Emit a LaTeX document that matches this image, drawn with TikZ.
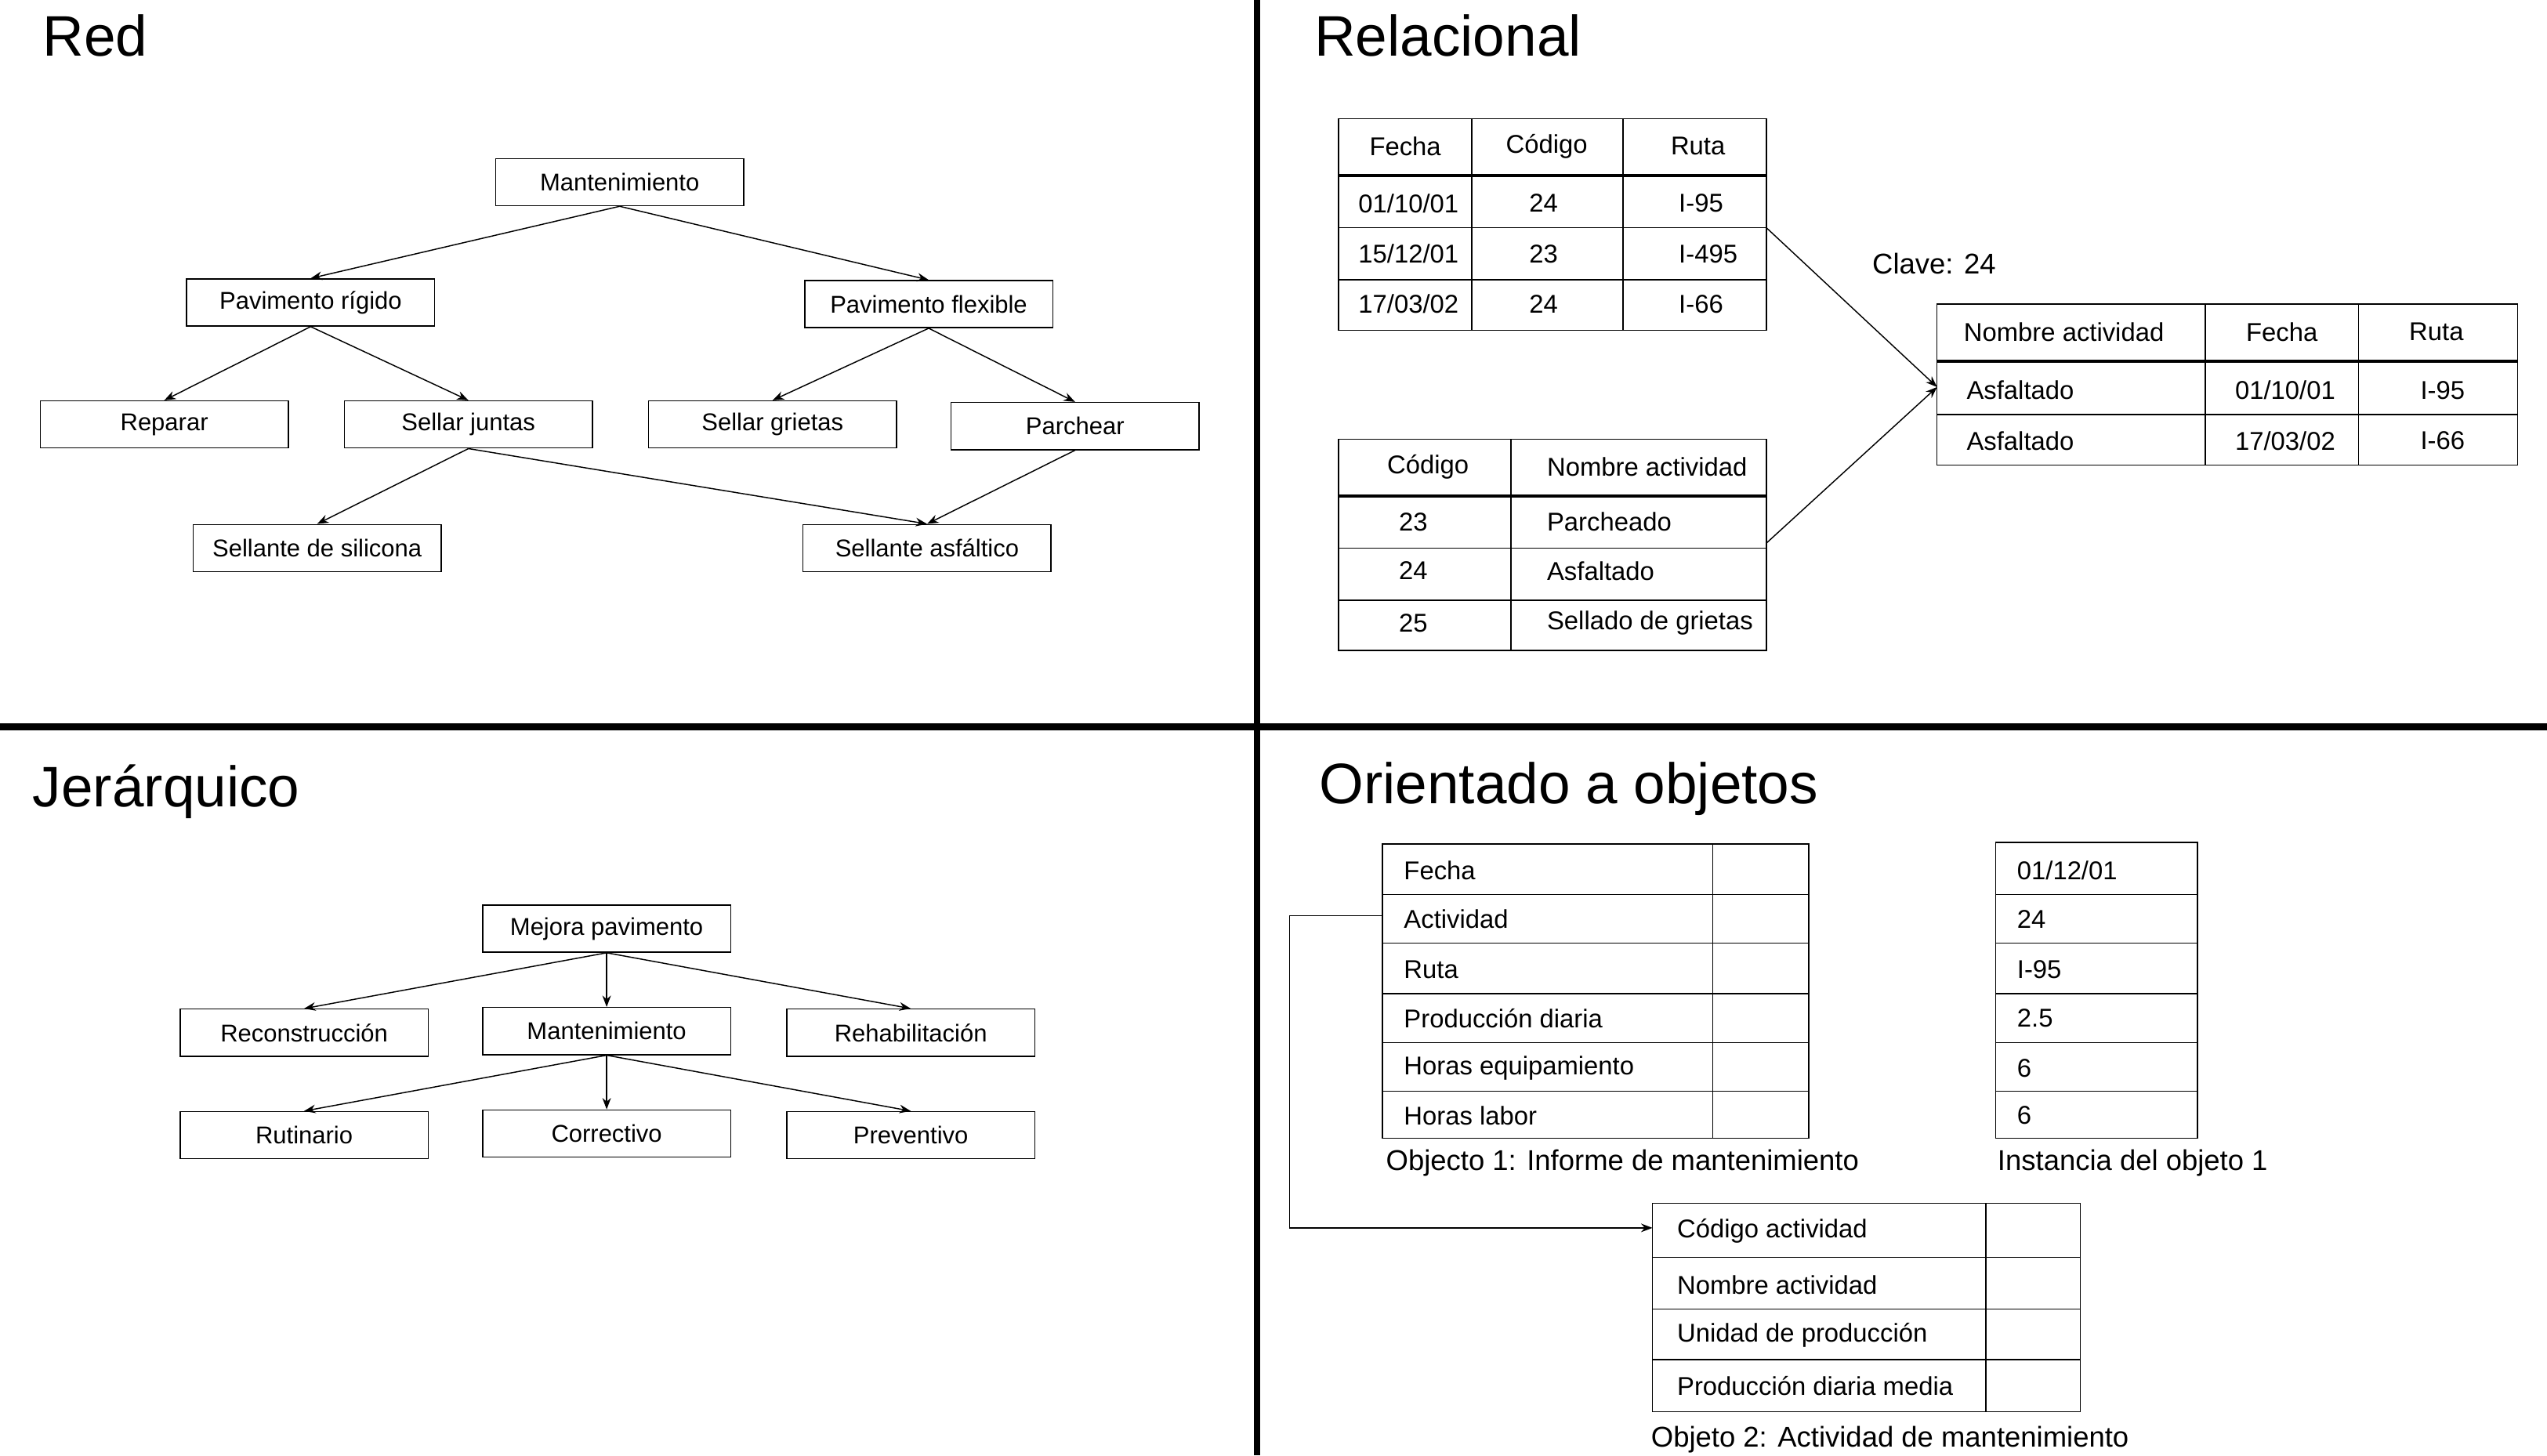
\documentclass[tikz,border=0pt]{standalone}
\usepackage{fontspec}
\setmainfont{Liberation Sans}
\usetikzlibrary{positioning, arrows.meta}
\tikzset{
  box/.style={draw, rectangle, minimum width=3.05cm, minimum height=0.58cm, inner sep=0pt, font=\fontsize{8.5}{10}\selectfont},
  arr/.style={-{Stealth[length=4pt,width=3pt]}, thin},
  title/.style={anchor=west, font=\fontsize{20}{24}\selectfont},
  cell/.style={font=\fontsize{9}{11}\selectfont},
  captxt/.style={anchor=west, font=\fontsize{10}{12}\selectfont}
}
\begin{document}
\begin{tikzpicture}[x=0.02cm, y=-0.02cm]
  \useasboundingbox (0,0) rectangle (1566,895);
  % dividers
  \draw[line width=2.3pt] (773,0) -- (773,895);
  \draw[line width=2.3pt] (0,447) -- (1566,447);

  % titles
  \node[title] (tRed) at (20,22) {Red};
  \node[title] (tRel) at (802,22) {Relacional};
  \node[title] (tJer) at (14,487) {Jerárquico};
  \node[title] (tOO) at (805,485) {Orientado a objetos};

  % Red
  \node[box] (M) at (381,112) {Mantenimiento};
  \node[box] (PR) at (191,186) {Pavimento rígido};
  \node[box] (PF) at (571,187) {Pavimento flexible};
  \node[box] (Rep) at (101,261) {Reparar};
  \node[box] (SJ) at (288,261) {Sellar juntas};
  \node[box] (SG) at (475,261) {Sellar grietas};
  \node[box] (Par) at (661,262) {Parchear};
  \node[box] (SS) at (195,337) {Sellante de silicona};
  \node[box] (SA) at (570,337) {Sellante asfáltico};
  \draw[arr] (M.south) -- (PR.north);
  \draw[arr] (M.south) -- (PF.north);
  \draw[arr] (PR.south) -- (Rep.north);
  \draw[arr] (PR.south) -- (SJ.north);
  \draw[arr] (PF.south) -- (SG.north);
  \draw[arr] (PF.south) -- (Par.north);
  \draw[arr] (SJ.south) -- (SS.north);
  \draw[arr] (SJ.south) -- (SA.north);
  \draw[arr] (Par.south) -- (SA.north);

  % Jerarquico
  \node[box] (MP) at (373,571) {Mejora pavimento};
  \node[box] (Rec) at (187,635) {Reconstrucción};
  \node[box] (Man) at (373,634) {Mantenimiento};
  \node[box] (Reh) at (560,635) {Rehabilitación};
  \node[box] (Rut) at (187,698) {Rutinario};
  \node[box] (Cor) at (373,697) {Correctivo};
  \node[box] (Pre) at (560,698) {Preventivo};
  \foreach \c in {Rec,Man,Reh} \draw[arr] (MP.south) -- (\c.north);
  \foreach \c in {Rut,Cor,Pre} \draw[arr] (Man.south) -- (\c.north);

  % Relacional: tabla 1
  \draw (823,73) rectangle (1086,203);
  \draw[line width=1pt] (823,108) -- (1086,108);
  \foreach \y in {140,172} \draw (823,\y) -- (1086,\y);
  \foreach \x in {905,998} \draw (\x,73) -- (\x,203);
  \node[cell] at (864,90) {Fecha};
  \node[cell] at (951,90) {Código};
  \node[cell] at (1044,90) {Ruta};
  \foreach \y/\a/\b/\c in {125/01\slash 10\slash 01/24/I-95, 156/15\slash 12\slash 01/23/I-495, 187/17\slash 03\slash 02/24/I-66}{
    \node[cell] at (866,\y) {\a};
    \node[cell] at (949,\y) {\b};
    \node[cell, anchor=west] at (1026,\y) {\c};
  }
  \coordinate (T1) at (1086,140);

  % tabla 2
  \draw (823,270) rectangle (1086,400);
  \draw[line width=1pt] (823,305) -- (1086,305);
  \foreach \y in {337,369} \draw (823,\y) -- (1086,\y);
  \draw (929,270) -- (929,400);
  \node[cell] at (878,287) {Código};
  \node[cell, anchor=west] at (945,287) {Nombre actividad};
  \foreach \y/\a/\b in {321/23/Parcheado, 351/24/Asfaltado, 383/25/Sellado de grietas}{
    \node[cell] at (869,\y) {\a};
    \node[cell, anchor=west] at (945,\y) {\b};
  }
  \coordinate (T2) at (1086,334);

  % tabla 3
  \node[anchor=west, font=\fontsize{10}{12}\selectfont] (clave) at (1145,162) {Clave: 24};
  \draw (1191,187) rectangle (1548,286);
  \draw[line width=1pt] (1191,222) -- (1548,222);
  \draw (1191,255) -- (1548,255);
  \foreach \x in {1356,1450} \draw (\x,187) -- (\x,286);
  \node[cell] at (1269,204) {Nombre actividad};
  \node[cell] at (1403,204) {Fecha};
  \node[cell] at (1498,204) {Ruta};
  \foreach \y/\b/\c in {240/01\slash 10\slash 01/I-95, 271/17\slash 03\slash 02/I-66}{
    \node[cell, anchor=west] at (1203,\y) {Asfaltado};
    \node[cell] at (1405,\y) {\b};
    \node[cell, anchor=west] at (1482,\y) {\c};
  }
  \coordinate (T3) at (1191,238);
  \draw[arr] (T1) -- (T3);
  \draw[arr] (T2) -- (T3);

  % Orientado a objetos: objeto 1
  \draw (850,519) rectangle (1112,700);
  \foreach \y in {550,580,611,641,671} \draw (850,\y) -- (1112,\y);
  \draw (1053,519) -- (1053,700);
  \foreach \y/\t in {535/Fecha, 565/Actividad, 596/Ruta, 626/Producción diaria, 657/Horas equipamiento, 686/Horas labor}
    \node[cell, anchor=west] at (857,\y) {\t};
  \node[captxt] (cap1) at (846,715) {Objecto 1: Informe de mantenimiento};
  \coordinate (Act) at (850,563);

  % instancia
  \draw (1227,518) rectangle (1351,700);
  \foreach \y in {550,580,611,641,671} \draw (1227,\y) -- (1351,\y);
  \foreach \y/\t in {535/01\slash 12\slash 01, 565/24, 596/I-95, 626/2.5, 657/6, 686/6}
    \node[cell, anchor=west] at (1234,\y) {\t};
  \node[captxt] (cap2) at (1222,715) {Instancia del objeto 1};

  % objeto 2
  \draw (1016,740) rectangle (1279,868);
  \foreach \y in {773,805,836} \draw (1016,\y) -- (1279,\y);
  \draw (1221,740) -- (1221,868);
  \foreach \y/\t in {757/Código actividad, 790/Nombre actividad, 821/Unidad de producción, 852/Producción diaria media}
    \node[cell, anchor=west] at (1025,\y) {\t};
  \node[captxt] (cap3) at (1009,885) {Objeto 2: Actividad de mantenimiento};
  \coordinate (Cod) at (1016,755);
  \draw[arr] (Act) -- (793,563) |- (Cod);
\end{tikzpicture}
\end{document}
